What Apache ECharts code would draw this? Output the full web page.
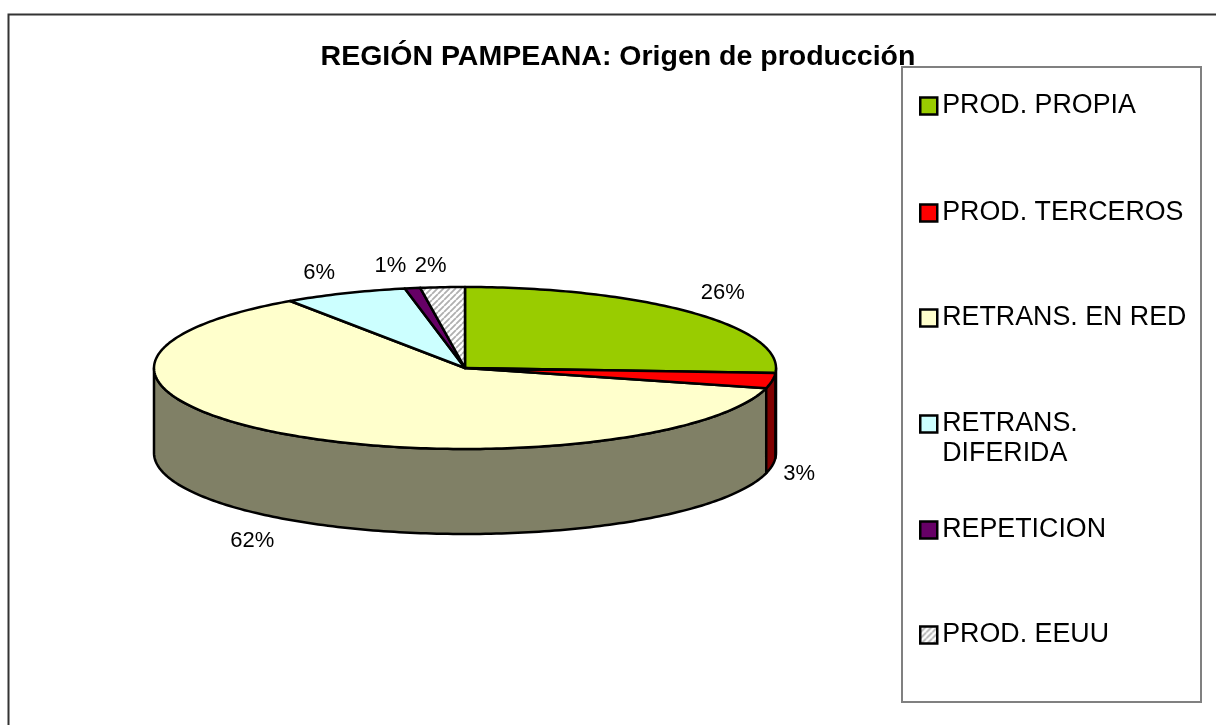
<!DOCTYPE html>
<html><head><meta charset="utf-8">
<style>html,body{margin:0;padding:0;background:#fff}#c{width:1216px;height:725px}</style>
<script src="https://cdn.jsdelivr.net/npm/echarts@6/dist/echarts.min.js"></script>
</head><body><div id="c"></div>
<script>
const categories = ['PROD. PROPIA','PROD. TERCEROS','RETRANS. EN RED','RETRANS. DIFERIDA','REPETICION','PROD. EEUU'];
const values = [26.0, 3.0, 61.5, 6.4, 0.8, 2.3];
const percentLabels = ['26%','3%','62%','6%','1%','2%'];
const colors = ['#99CC00','#FF0000','#FFFFCC','#CCFFFF','#660066','hatch'];
const legendText = ['PROD. PROPIA','PROD. TERCEROS','RETRANS. EN RED','\nRETRANS.\nDIFERIDA','REPETICION','PROD. EEUU'];

// layout of the tilted pie
const CX = 465, CY = 368, RX = 311, RY = 81, DEPTH = 85;
const labelOffsets = [[31,-20],[27,8],[-34,22],[-26,-20],[-22,-22],[-12,-21]];
const FONT = '"Liberation Sans", Arial, sans-serif';

function hatch(size){
  const s = size, c = document.createElement('canvas');
  c.width = s; c.height = s;
  const g = c.getContext('2d');
  g.fillStyle = '#fff'; g.fillRect(0,0,s,s);
  g.strokeStyle = '#b0b0b0'; g.lineWidth = 1.8;
  g.beginPath();
  for (let i=-s;i<=2*s;i+=s){ g.moveTo(i,s); g.lineTo(i+s,0); }
  g.stroke();
  return c;
}
const hatchFill = {image: hatch(6), repeat:'repeat'};
const hatchSide = '#808080';
const fillOf = i => colors[i]==='hatch' ? hatchFill : colors[i];
function darken(hex){
  if (hex==='hatch') return hatchSide;
  const n = parseInt(hex.slice(1),16);
  const h = v => Math.round(v/2).toString(16).padStart(2,'0');
  return '#'+h(n>>16&255)+h(n>>8&255)+h(n&255);
}
const total = values.reduce((a,b)=>a+b,0);
const pt = (deg,dy=0)=>{const r=deg*Math.PI/180;return [CX+RX*Math.sin(r),CY-RY*Math.cos(r)+dy];};
function arc(a,b,dy=0){
  const n=Math.max(2,Math.ceil(Math.abs(b-a)));const out=[];
  for(let k=0;k<=n;k++)out.push(pt(a+(b-a)*k/n,dy));
  return out;
}
function sliceAngles(i){
  let s=0;for(let k=0;k<i;k++)s+=values[k];
  return [s/total*360,(s+values[i])/total*360];
}
const stroke={stroke:'#000',lineWidth:2.5,lineJoin:'round'};
function render(i){
  return function(params,api){
    const [a,b]=sliceAngles(i);
    const kids=[];
    const wa=Math.max(a,90), wb=Math.min(b,270);
    if(wb>wa){
      const top=arc(wa,wb),bot=arc(wa,wb,DEPTH).reverse();
      kids.push({type:'polygon',shape:{points:top.concat(bot)},style:{fill:darken(colors[i]),...stroke}});
    }
    kids.push({type:'polygon',shape:{points:[[CX,CY]].concat(arc(a,b))},style:{fill:fillOf(i),...stroke}});
    const mid=(a+b)/2;
    const m=pt(mid,(mid>90&&mid<270)?DEPTH:0);
    kids.push({type:'text',style:{text:percentLabels[i],x:m[0]+labelOffsets[i][0],y:m[1]+labelOffsets[i][1],
      font:'22px '+FONT,fill:'#000',align:'center',verticalAlign:'middle'}});
    return {type:'group',children:kids};
  };
}
const series=categories.map((name,i)=>({
  type:'custom',name,coordinateSystem:'none',silent:true,animation:false,
  itemStyle:{color:fillOf(i)},
  data:[values[i]],renderItem:render(i),z:2+(i===2?0:1)
}));
const legendTops=[90,197,302,378,514,619];
const legend=categories.map((name,i)=>({
  data:[{name,icon:'rect',itemStyle:{color:fillOf(i),borderColor:'#000',borderWidth:2.5}}],
  left:919,top:legendTops[i],orient:'vertical',padding:0,itemGap:0,selectedMode:false,
  itemWidth:17,itemHeight:17,
  formatter:()=>legendText[i],
  textStyle:{fontFamily:FONT,fontSize:26.8,color:'#000',lineHeight:30,padding:[2,0,0,0]}
}));
const chart=echarts.init(document.getElementById('c'),null,{renderer:'canvas'});
chart.setOption({
  animation:false,backgroundColor:'#fff',
  title:{text:'REGIÓN PAMPEANA: Origen de producción',left:618,top:43,textAlign:'center',padding:0,
    textStyle:{fontFamily:FONT,fontWeight:'bold',fontSize:28.5,color:'#000'}},
  legend,series,
  graphic:[
    {type:'polyline',z:0,shape:{points:[[8.5,725],[8.5,14.5],[1216,14.5]]},style:{fill:null,stroke:'#333',lineWidth:2}},
    {type:'rect',z:0,shape:{x:902,y:67,width:299,height:635},style:{fill:'#fff',stroke:'#808080',lineWidth:2}}
  ]
});
</script></body></html>
